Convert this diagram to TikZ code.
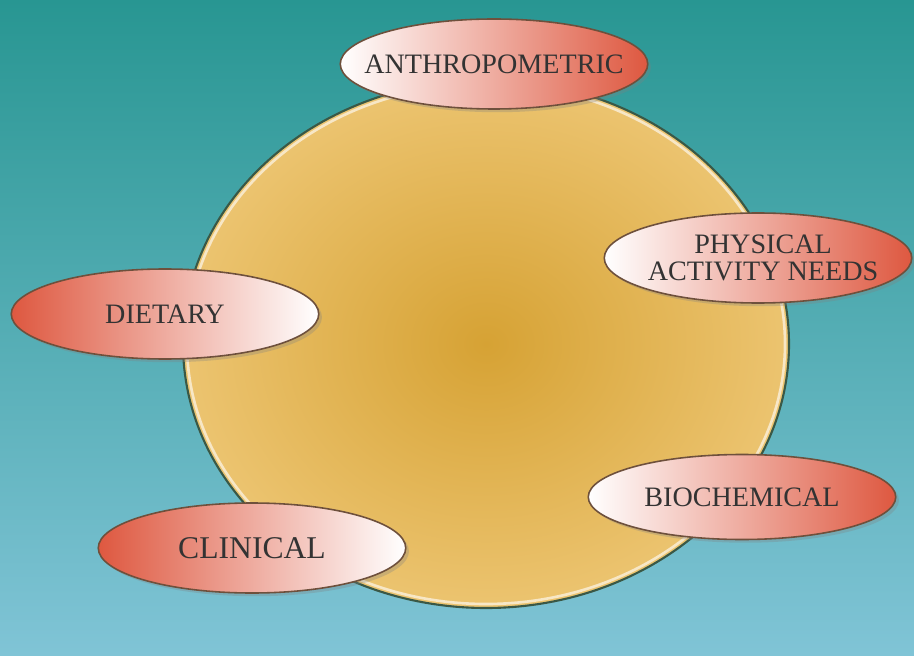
\documentclass[tikz,border=0pt]{standalone}
\usepackage{fontspec}
\setmainfont{Liberation Serif}
\usetikzlibrary{shapes.geometric,shadows}

\definecolor{seatop}{RGB}{40,150,146}
\definecolor{seabot}{RGB}{128,196,214}
\definecolor{sunin}{RGB}{214,162,52}
\definecolor{sunout}{RGB}{236,196,112}
\definecolor{sunrim}{RGB}{58,88,70}
\definecolor{pillred}{RGB}{222,88,64}
\definecolor{pillrim}{RGB}{110,80,60}

\begin{document}
\begin{tikzpicture}[
    pill/.style={ellipse, draw=pillrim, line width=0.9pt, minimum width=6.15cm,
        minimum height=1.8cm, inner sep=0pt,
        drop shadow={opacity=0.3, shadow xshift=0.4ex, shadow yshift=-0.4ex}},
    pilltext/.style={align=center, text=black!80, inner sep=0pt,
        font=\fontsize{16}{15.5}\selectfont},
    redleft/.style={pill, left color=pillred, middle color=pillred!50!white, right color=white},
    redright/.style={pill, left color=white, middle color=pillred!50!white, right color=pillred}
]

    % Backdrop
    \useasboundingbox (0,0) rectangle (18.28,13.1);
    \shade[top color=seatop, bottom color=seabot] (0,0) rectangle (18.28,13.1);

    % Central disc
    \node[ellipse, inner color=sunin, outer color=sunout, draw=sunrim, line width=1.2pt,
        minimum width=12.12cm, minimum height=10.56cm] (disc) at (9.72,6.22) {};
    \draw[white!60!sunout, line width=1.5pt] (disc.center) ellipse (5.98cm and 5.2cm);

    % Assessment areas
    \node[redright, label={[pilltext]center:ANTHROPOMETRIC}] (anthro) at (9.88,11.82) {};
    \node[redright, label={[pilltext, xshift=0.1cm]center:PHYSICAL\\ACTIVITY NEEDS}] (activity) at (15.16,7.94) {};
    \node[redleft, label={[pilltext]center:DIETARY}] (dietary) at (3.3,6.82) {};
    \node[redright, minimum height=1.7cm, label={[pilltext]center:BIOCHEMICAL}] (biochem) at (14.84,3.16) {};
    \node[redleft, label={[pilltext, font=\fontsize{18}{20}\selectfont]center:CLINICAL}] (clinical) at (5.04,2.14) {};

\end{tikzpicture}
\end{document}
